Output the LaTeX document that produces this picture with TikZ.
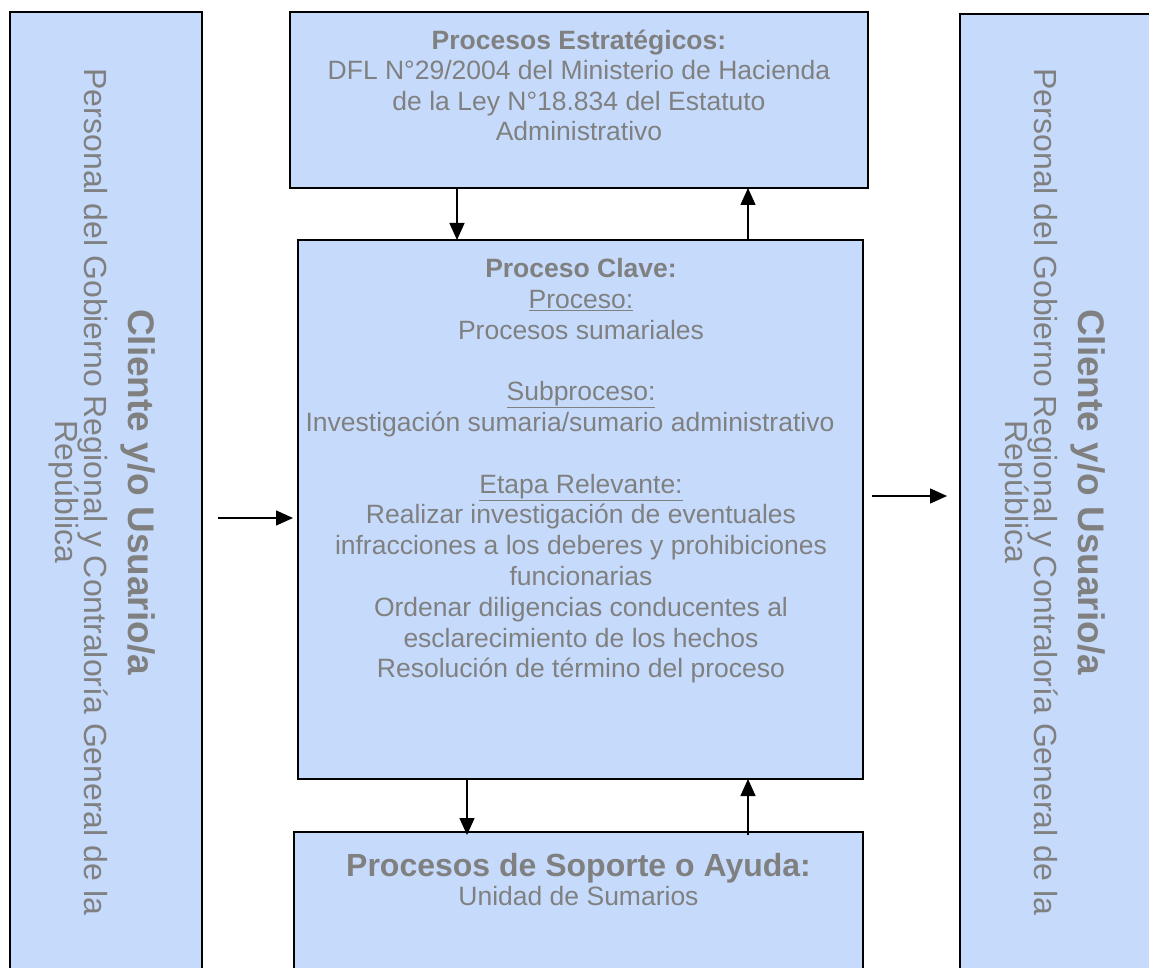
\documentclass[tikz,border=0pt]{standalone}
\usepackage{fontspec}
\setmainfont{Liberation Sans}
\usetikzlibrary{arrows.meta}
\definecolor{boxfill}{RGB}{198,219,252}
\definecolor{txtgray}{RGB}{128,128,128}

\begin{document}
\begin{tikzpicture}[x=1pt,y=-1pt,
  panel/.style={draw=black, line width=1.8pt, fill=boxfill, rectangle,
    anchor=north west, inner sep=0pt, outer sep=0pt},
  flow/.style={-{Triangle[length=17pt,width=15pt]}, line width=1.4pt},
  body/.style={text=txtgray, align=center, inner sep=0pt,
    font=\fontsize{26.5}{30.8}\selectfont},
  side/.style={text=txtgray, inner sep=0pt, rotate=-90, anchor=base},
  sidebold/.style={side, font=\fontsize{37}{42}\selectfont\bfseries},
  sidereg/.style={side, font=\fontsize{32}{36}\selectfont}]
\useasboundingbox (0,0) rectangle (1149,968);

% boxes
\node[panel, minimum width=192pt, minimum height=980pt] (cli) at (10,12) {};
\node[panel, minimum width=192pt, minimum height=980pt] (cli2) at (960,14) {};
\node[panel, minimum width=578pt, minimum height=176pt] (est) at (290,12) {};
\node[panel, minimum width=565pt, minimum height=539pt] (clave) at (298,240) {};
\node[panel, minimum width=569pt, minimum height=200pt] (sop) at (294,832) {};

% client texts, written top to bottom
\node[sidebold] (c1) at (128,492) {Cliente y/o Usuario/a};
\node[sidereg] (c2) at (84,492) {Personal del Gobierno Regional y Contraloría General de la};
\node[sidereg] (c3) at (55,492) {República};
\node[sidebold] (d1) at (1078,492) {Cliente y/o Usuario/a};
\node[sidereg] (d2) at (1034,492) {Personal del Gobierno Regional y Contraloría General de la};
\node[sidereg] (d3) at (1005,492) {República};

% strategic processes
\node[body, anchor=north, font=\fontsize{26.5}{30.3}\selectfont] (estt) at (579,30) {\textbf{Procesos Estratégicos:}\\
  DFL N°29/2004 del Ministerio de Hacienda\\
  de la Ley N°18.834 del Estatuto\\
  Administrativo};

% key process
\node[body, anchor=north] (clavet) at (581,258) {\textbf{Proceso Clave:}\\
  \underline{Proceso:}\\
  Procesos sumariales\\
  ~\\
  \underline{Subproceso:}\\
  \hbox{Investigación sumaria/sumario administrativo\kern22pt}\\
  ~\\
  \underline{Etapa Relevante:}\\
  Realizar investigación de eventuales\\
  infracciones a los deberes y prohibiciones\\
  funcionarias\\
  Ordenar diligencias conducentes al\\
  esclarecimiento de los hechos\\
  Resolución de término del proceso};

% support processes
\node[body, anchor=north] (sopt) at (578.5,853) {{\fontsize{32}{32}\selectfont\bfseries Procesos de Soporte o Ayuda:}\\[-2pt]
  Unidad de Sumarios};

% connectors
\coordinate (xa) at (457,0);
\coordinate (xb) at (748,0);
\coordinate (xc) at (467,0);
\coordinate (inA) at (218,518);
\coordinate (inB) at (293,518);
\coordinate (outA) at (872,496);
\coordinate (outB) at (947,496);
\draw[flow] (est.south -| xa) -- (clave.north -| xa);
\draw[flow] (clave.north -| xb) -- (est.south -| xb);
\draw[flow] (clave.south -| xc) -- ([yshift=-3pt]sop.north -| xc);
\draw[flow] ([yshift=-3pt]sop.north -| xb) -- (clave.south -| xb);
\draw[flow] (inA) -- (inB);
\draw[flow] (outA) -- (outB);
\end{tikzpicture}
\end{document}
